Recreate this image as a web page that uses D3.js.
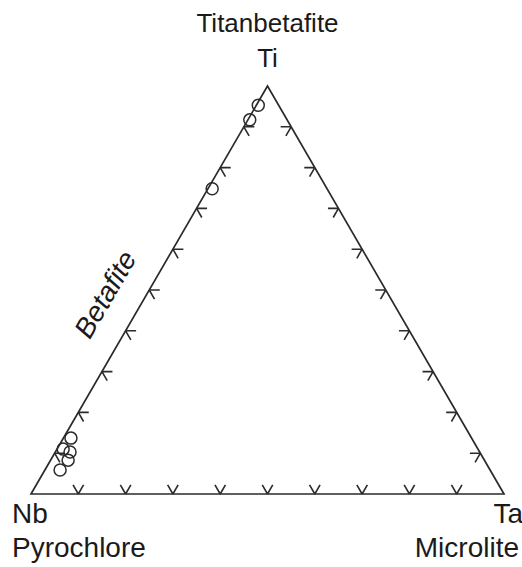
<!DOCTYPE html>
<html>
<head>
<meta charset="utf-8">
<script src="https://cdn.jsdelivr.net/npm/d3@7"></script>
<style>
  body { margin: 0; background: #fff; }
  text { font-family: "Liberation Sans", Arial, sans-serif; fill: #1a1a1a; }
</style>
</head>
<body>
<script>
// Ternary Nb - Ta - Ti (pyrochlore group classification)
const corners = ['Nb', 'Ta', 'Ti'];
const groups = ['Pyrochlore', 'Microlite', 'Titanbetafite'];
const fieldLabel = 'Betafite';

// sample compositions (fractions)
const tiVals = [0.953, 0.917, 0.748, 0.137, 0.110, 0.103, 0.083, 0.059];
const taVals = [0.004, 0.004, 0.009, 0.016, 0.013, 0.031, 0.037, 0.032];
const nbVals = tiVals.map((t, i) => +(1 - t - taVals[i]).toFixed(3));

const ticks = [0.1, 0.2, 0.3, 0.4, 0.5, 0.6, 0.7, 0.8, 0.9];

const width = 522, height = 567;

const svg = d3.select('body').append('svg')
    .attr('width', width)
    .attr('height', height);

// x: position along the Nb-Ta base, y: Ti fraction
const xScale = d3.scaleLinear().domain([0, 1]).range([31, 504]);
const yScale = d3.scaleLinear().domain([0, 1]).range([494, 86]);

// ternary -> screen
function pos(nb, ta, ti) {
    return [xScale(ta + ti / 2), yScale(ti)];
}

const pNb = pos(1, 0, 0), pTa = pos(0, 1, 0), pTi = pos(0, 0, 1);

const ink = '#2b2b2b';

// Triangle outline
svg.append('path')
    .attr('d', d3.line()([pNb, pTa, pTi]) + 'Z')
    .attr('fill', 'none')
    .attr('stroke', ink)
    .attr('stroke-width', 1.7);

// Tick marks: two short arms from each 10% point
const armLen = 10.5;
const s60 = Math.sqrt(3) / 2;
const tickData = [];
ticks.forEach(t => {
    // base (Nb-Ta)
    tickData.push({ p: pos(1 - t, t, 0), arms: [[0.5, -s60], [-0.5, -s60]] });
    // left side (Nb-Ti)
    tickData.push({ p: pos(1 - t, 0, t), arms: [[1, 0], [0.5, s60]] });
    // right side (Ta-Ti)
    tickData.push({ p: pos(0, 1 - t, t), arms: [[-1, 0], [-0.5, s60]] });
});

svg.append('g').selectAll('path')
    .data(tickData)
    .enter().append('path')
    .attr('d', d => d.arms.map(a =>
        `M${d.p[0]},${d.p[1]}L${d.p[0] + a[0] * armLen},${d.p[1] + a[1] * armLen}`).join(''))
    .attr('fill', 'none')
    .attr('stroke', ink)
    .attr('stroke-width', 1.6);

// Data points
svg.append('g').selectAll('circle')
    .data(tiVals.map((t, i) => pos(nbVals[i], taVals[i], t)))
    .enter().append('circle')
    .attr('cx', d => d[0])
    .attr('cy', d => d[1])
    .attr('r', 6)
    .attr('fill', 'none')
    .attr('stroke', ink)
    .attr('stroke-width', 1.5);

// Corner labels
const fs = 28;
svg.append('text').attr('x', 12).attr('y', 523).attr('font-size', fs).text(corners[0]);
svg.append('text').attr('x', 12).attr('y', 557).attr('font-size', fs).text(groups[0]);
svg.append('text').attr('x', 523).attr('y', 523).attr('font-size', fs)
    .attr('text-anchor', 'end').text(corners[1]);
svg.append('text').attr('x', 519).attr('y', 557).attr('font-size', fs)
    .attr('text-anchor', 'end').text(groups[1]);
svg.append('text').attr('x', pTi[0]).attr('y', 32).attr('font-size', 26)
    .attr('text-anchor', 'middle').text(groups[2]);
svg.append('text').attr('x', pTi[0]).attr('y', 67).attr('font-size', 26)
    .attr('text-anchor', 'middle').text(corners[2]);

// Field label along the Nb-Ti side
const bp = pos(0.52, 0, 0.48);
svg.append('text')
    .attr('transform', `translate(${bp[0] - 31},${bp[1] + 1}) rotate(-60)`)
    .attr('font-size', fs)
    .attr('font-style', 'italic')
    .attr('text-anchor', 'middle')
    .text(fieldLabel);
</script>
</body>
</html>
